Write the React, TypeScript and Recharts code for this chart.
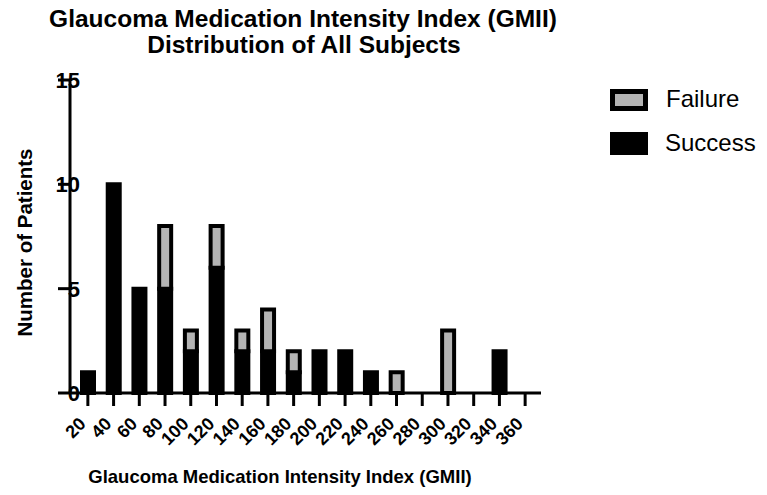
import { Bar, BarChart, Legend, XAxis, YAxis } from "recharts";

const gmiiBins = ["20", "40", "60", "80", "100", "120", "140", "160", "180", "200", "220", "240", "260", "280", "300", "320", "340", "360"];
const successCounts = [1, 10, 5, 5, 2, 6, 2, 2, 1, 2, 2, 1, 0, 0, 0, 0, 2, 0];
const failureCounts = [0, 0, 0, 3, 1, 2, 1, 2, 1, 0, 0, 0, 1, 0, 3, 0, 0, 0];
const yTicks = [0, 5, 10, 15];

const FONT = "'Liberation Sans', Arial, sans-serif";
const GREY = "#b4b4b4";

const rows = gmiiBins.map((bin, i) => ({
  bin,
  success: successCounts[i],
  failure: failureCounts[i],
}));

function YTick({ x, y, payload }: any) {
  return (
    <text x={x + 22} y={y} dy="0.36em" textAnchor="end" fontSize={22} fontWeight="bold" fill="#000" fontFamily={FONT}>
      {payload.value}
    </text>
  );
}

function XTick({ x, y, payload }: any) {
  const px = x - 1;
  const py = y + 19;
  return (
    <text
      x={px}
      y={py}
      textAnchor="end"
      transform={`rotate(-45, ${px}, ${py})`}
      fontSize={18}
      fontWeight="bold"
      fill="#000"
      fontFamily={FONT}
    >
      {payload.value}
    </text>
  );
}

function LegendBox() {
  return (
    <svg width={167} height={80} style={{ display: "block" }}>
      <rect x={14.5} y={8.5} width={33} height={17} fill={GREY} stroke="#000" strokeWidth={5} />
      <text x={68} y={24} fontSize={24} fontFamily={FONT} fill="#000">Failure</text>
      <rect x={14.5} y={51.5} width={33} height={18} fill="#000" stroke="#000" strokeWidth={5} />
      <text x={67} y={68} fontSize={24} fontFamily={FONT} fill="#000">Success</text>
    </svg>
  );
}

export default function App() {
  return (
    <div style={{ position: "fixed", left: 0, top: 0, width: 767, height: 495, background: "#fff", fontFamily: FONT }}>
      <BarChart width={767} height={495} data={rows} margin={{ top: 80, right: 226, bottom: 0, left: 8 }} barCategoryGap={0}>
        <XAxis
          dataKey="bin"
          interval={0}
          height={102}
          padding={{ left: 5, right: 3 }}
          axisLine={{ stroke: "#000", strokeWidth: 3 }}
          tickLine={{ stroke: "#000", strokeWidth: 3 }}
          tickSize={13}
          tickMargin={0}
          tick={<XTick />}
        />
        <YAxis
          width={62}
          domain={[0, 15]}
          ticks={yTicks}
          interval={0}
          axisLine={{ stroke: "#000", strokeWidth: 3 }}
          tickLine={{ stroke: "#000", strokeWidth: 3 }}
          tickSize={12}
          tickMargin={0}
          tick={<YTick />}
        />
        <Legend
          layout="vertical"
          align="center"
          verticalAlign="middle"
          wrapperStyle={{ left: 598, top: 83, width: 167 }}
          content={() => <LegendBox />}
        />
        <Bar dataKey="success" name="Success" stackId="gmii" fill="#000" stroke="#000" strokeWidth={4} barSize={12} isAnimationActive={false} />
        <Bar dataKey="failure" name="Failure" stackId="gmii" fill={GREY} stroke="#000" strokeWidth={4} barSize={12} isAnimationActive={false} />
      </BarChart>
      <svg width={767} height={495} style={{ position: "absolute", left: 0, top: 0, pointerEvents: "none" }}>
        <text x={303} y={27} textAnchor="middle" fontSize={24.5} fontWeight="bold" fontFamily={FONT} fill="#000">
          Glaucoma Medication Intensity Index (GMII)
        </text>
        <text x={304} y={53} textAnchor="middle" fontSize={24.5} fontWeight="bold" fontFamily={FONT} fill="#000">
          Distribution of All Subjects
        </text>
        <text x={280} y={483} textAnchor="middle" fontSize={18.5} fontWeight="bold" fontFamily={FONT} fill="#000">
          Glaucoma Medication Intensity Index (GMII)
        </text>
        <text
          x={32}
          y={242.5}
          textAnchor="middle"
          transform="rotate(-90, 32, 242.5)"
          fontSize={20.5}
          fontWeight="bold"
          fontFamily={FONT}
          fill="#000"
        >
          Number of Patients
        </text>
      </svg>
    </div>
  );
}
